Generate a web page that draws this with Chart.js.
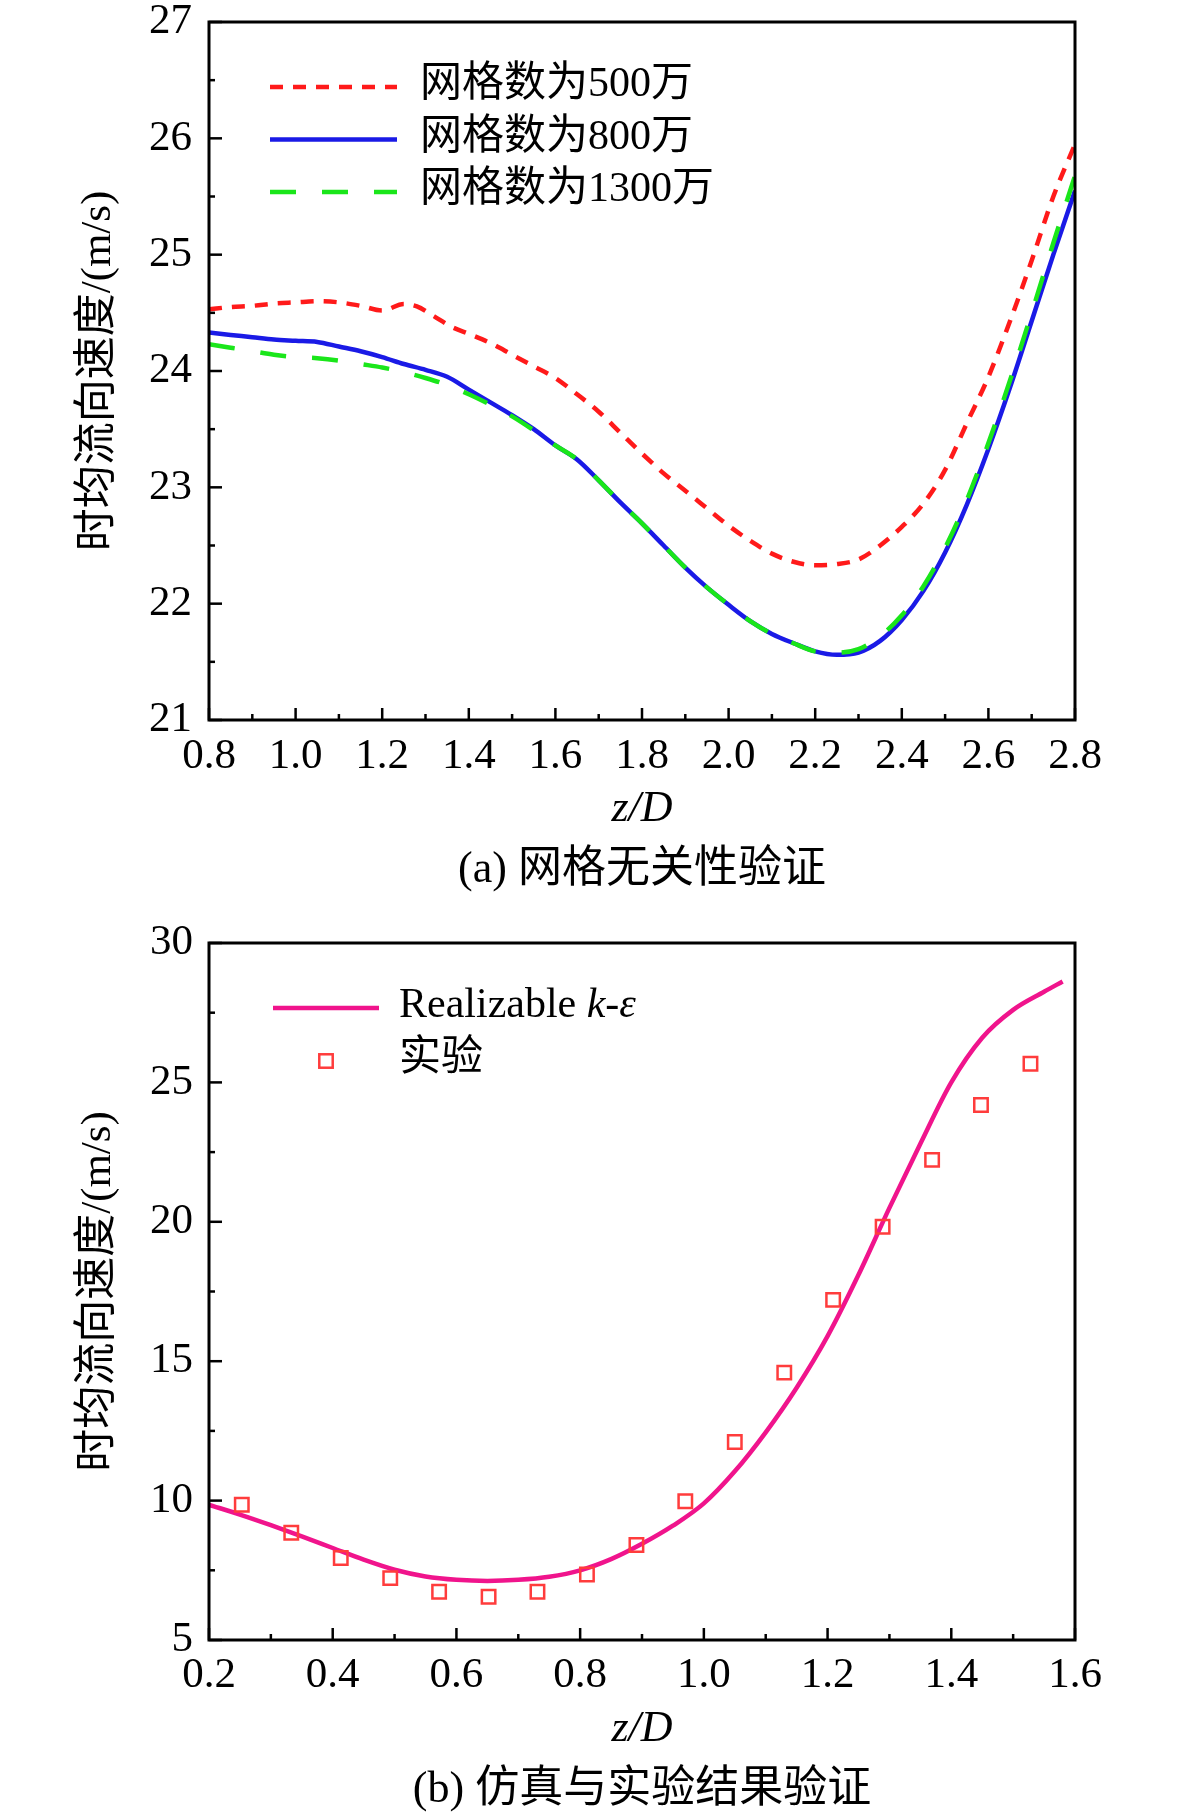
<!DOCTYPE html>
<html>
<head>
<meta charset="utf-8">
<script src="https://cdn.jsdelivr.net/npm/chart.js@4.4.0/dist/chart.umd.min.js"></script>
<style>
html,body{margin:0;padding:0;background:#fff;}
#c1{position:absolute;left:0;top:0;}
#c2{position:absolute;left:0;top:910px;}
</style>
</head>
<body>
<canvas id="c1" width="1182" height="910"></canvas>
<canvas id="c2" width="1182" height="908"></canvas>
<script>
// ---------- Chart (a) data ----------
const xTicksA = [0.8, 1.0, 1.2, 1.4, 1.6, 1.8, 2.0, 2.2, 2.4, 2.6, 2.8];
const yTicksA = [21, 22, 23, 24, 25, 26, 27];
const labelsA = ['网格数为500万', '网格数为800万', '网格数为1300万'];

const z500 = [0.80,0.85,0.90,0.95,1.00,1.05,1.10,1.15,1.20,1.25,1.28,1.32,1.36,1.40,1.45,1.50,1.55,1.60,1.65,1.70,1.75,1.80,1.85,1.90,1.95,2.00,2.05,2.10,2.15,2.20,2.25,2.30,2.35,2.40,2.45,2.50,2.55,2.60,2.65,2.70,2.75,2.80];
const v500 = [24.53,24.55,24.56,24.58,24.59,24.60,24.59,24.56,24.52,24.575,24.555,24.47,24.38,24.32,24.24,24.14,24.04,23.94,23.80,23.65,23.47,23.29,23.12,22.97,22.82,22.67,22.54,22.43,22.36,22.33,22.34,22.38,22.50,22.66,22.86,23.15,23.55,23.95,24.43,24.95,25.50,25.95];

const zGrid = [0.80,0.85,0.90,0.95,1.00,1.05,1.10,1.15,1.20,1.25,1.30,1.35,1.40,1.45,1.50,1.55,1.60,1.65,1.70,1.75,1.80,1.85,1.90,1.95,2.00,2.05,2.10,2.15,2.20,2.25,2.30,2.35,2.40,2.45,2.50,2.55,2.60,2.65,2.70,2.75,2.80];
const v800 = [24.33,24.31,24.29,24.27,24.26,24.25,24.21,24.17,24.12,24.06,24.01,23.95,23.84,23.73,23.62,23.50,23.36,23.24,23.06,22.87,22.69,22.50,22.31,22.14,21.99,21.85,21.74,21.66,21.59,21.56,21.58,21.68,21.86,22.11,22.44,22.85,23.33,23.86,24.43,25.00,25.55];
const v1300 = [24.23,24.20,24.17,24.14,24.12,24.11,24.09,24.06,24.03,23.99,23.94,23.88,23.80,23.71,23.61,23.49,23.36,23.24,23.06,22.87,22.69,22.50,22.31,22.14,21.99,21.85,21.74,21.66,21.59,21.58,21.61,21.72,21.90,22.15,22.48,22.89,23.38,23.92,24.50,25.10,25.68];

// ---------- Chart (b) data ----------
const xTicksB = [0.2, 0.4, 0.6, 0.8, 1.0, 1.2, 1.4, 1.6];
const yTicksB = [5, 10, 15, 20, 25, 30];
const zSim = [0.20,0.25,0.30,0.35,0.40,0.45,0.50,0.55,0.60,0.65,0.70,0.75,0.80,0.85,0.90,0.95,1.00,1.05,1.10,1.15,1.20,1.25,1.30,1.35,1.40,1.45,1.50,1.55,1.58];
const vSim = [9.85,9.50,9.12,8.72,8.30,7.88,7.52,7.28,7.16,7.12,7.16,7.27,7.50,7.90,8.45,9.10,9.90,11.05,12.45,14.05,15.90,18.10,20.50,22.80,25.00,26.60,27.60,28.25,28.62];
const zExp = [0.253,0.333,0.413,0.493,0.572,0.652,0.731,0.811,0.891,0.970,1.050,1.130,1.209,1.289,1.369,1.448,1.528];
const vExp = [9.85,8.85,7.94,7.22,6.73,6.55,6.73,7.35,8.41,9.98,12.10,14.59,17.20,19.82,22.22,24.19,25.67];

const serif = '"Liberation Serif", "Noto Sans CJK SC", serif';
const pts = (xs, ys) => xs.map((x, i) => ({x: x, y: ys[i]}));

// frame, inward ticks and legend
const frameAxes = {
  id: 'frameAxes',
  afterDraw(chart, args, o) {
    const {ctx, chartArea: a, scales: {x, y}} = chart;
    ctx.save();
    ctx.strokeStyle = '#000';
    ctx.lineCap = 'butt';
    ctx.setLineDash([]);
    ctx.lineWidth = 2.5;
    const xt = x.ticks.map(t => t.value), yt = y.ticks.map(t => t.value);
    const seg = (x1, y1, x2, y2) => { ctx.beginPath(); ctx.moveTo(x1, y1); ctx.lineTo(x2, y2); ctx.stroke(); };
    xt.forEach((v, i) => {
      const px = x.getPixelForValue(v);
      seg(px, a.bottom, px, a.bottom - 12);
      if (i < xt.length - 1) {
        const pm = x.getPixelForValue((v + xt[i + 1]) / 2);
        seg(pm, a.bottom, pm, a.bottom - 6);
      }
    });
    yt.forEach((v, i) => {
      const py = y.getPixelForValue(v);
      seg(a.left, py, a.left + 13, py);
      if (i < yt.length - 1) {
        const pm = y.getPixelForValue((v + yt[i + 1]) / 2);
        seg(a.left, pm, a.left + 6, pm);
      }
    });
    ctx.lineWidth = 3;
    ctx.strokeRect(a.left, a.top, a.right - a.left, a.bottom - a.top);

    // legend
    const L = o.legend;
    chart.data.datasets.forEach((ds, i) => {
      const yy = a.top + L.dy + i * L.rowH;
      const x0 = a.left + L.dx;
      ctx.save();
      if (ds.showLine === false) {
        const s = ds.pointRadius * Math.SQRT1_2;
        const cx = x0 + L.sampleW / 2;
        ctx.strokeStyle = ds.pointBorderColor;
        ctx.lineWidth = ds.pointBorderWidth;
        ctx.strokeRect(cx - s, yy - s, 2 * s, 2 * s);
      } else {
        ctx.strokeStyle = ds.borderColor;
        ctx.lineWidth = ds.borderWidth;
        ctx.setLineDash(ds.borderDash || []);
        seg(x0, yy, x0 + L.sampleW, yy);
      }
      ctx.restore();
      ctx.fillStyle = '#000';
      ctx.textBaseline = 'middle';
      ctx.textAlign = 'left';
      let tx = a.left + L.textDx;
      const parts = ds.legendParts || [[ds.label, false]];
      parts.forEach(p => {
        ctx.font = (p[1] ? 'italic ' : '') + '42px ' + serif;
        ctx.fillText(p[0], tx, yy - 2);
        tx += ctx.measureText(p[0]).width;
      });
    });
    ctx.restore();
  }
};

function axes(xmin, xmax, xt, ymin, ymax, yt, xPad, yPad) {
  return {
    x: {
      type: 'linear', min: xmin, max: xmax,
      afterBuildTicks: s => { s.ticks = xt.map(v => ({value: v})); },
      afterFit: s => { s.height = 120; s.paddingLeft = 0; s.paddingRight = 0; },
      grid: {display: false, drawTicks: false},
      border: {display: false},
      ticks: {font: {family: serif, size: 43, lineHeight: 1.2}, color: '#000', padding: xPad,
              maxRotation: 0, autoSkip: false, callback: v => Number(v).toFixed(1)},
      title: {display: true, text: 'z/D', color: '#000',
              font: {family: serif, size: 44, style: 'italic', lineHeight: 1.2},
              padding: {top: 0, bottom: 4}}
    },
    y: {
      type: 'linear', min: ymin, max: ymax,
      afterBuildTicks: s => { s.ticks = yt.map(v => ({value: v})); },
      afterFit: s => { s.width = 209; s.paddingTop = 0; s.paddingBottom = 0; },
      grid: {display: false, drawTicks: false},
      border: {display: false},
      ticks: {font: {family: serif, size: 43, lineHeight: 1}, color: '#000', padding: yPad,
              autoSkip: false, callback: v => String(v)},
      title: {display: true, text: '时均流向速度/(m/s)', color: '#000',
              font: {family: serif, size: 43, lineHeight: 1.2},
              padding: {top: 73, bottom: 0}}
    }
  };
}

new Chart(document.getElementById('c1'), {
  type: 'line',
  data: {
    datasets: [
      {label: labelsA[0], data: pts(z500, v500), borderColor: '#ff1a1a', borderWidth: 4.5,
       borderDash: [13, 10], pointRadius: 0, fill: false, order: 2, cubicInterpolationMode: 'monotone'},
      {label: labelsA[1], data: pts(zGrid, v800), borderColor: '#1a1ae6', borderWidth: 4.5,
       borderDash: [], pointRadius: 0, fill: false, order: 1, cubicInterpolationMode: 'monotone'},
      {label: labelsA[2], data: pts(zGrid, v1300), borderColor: '#1ae61a', borderWidth: 4.5,
       borderDash: [26, 26], pointRadius: 0, fill: false, order: 0, cubicInterpolationMode: 'monotone'}
    ]
  },
  options: {
    responsive: false, animation: false, devicePixelRatio: 1,
    layout: {padding: {left: 0, top: 22, right: 107, bottom: 13.6}},
    plugins: {
      legend: {display: false}, tooltip: {enabled: false},
      title: {display: true, position: 'bottom', fullSize: false, text: '(a) 网格无关性验证', color: '#000',
              font: {family: serif, size: 44, weight: 'normal', lineHeight: 1.2}, padding: {top: 3.6, bottom: 0}},
      frameAxes: {legend: {dx: 61, dy: 65, rowH: 52.5, sampleW: 127, textDx: 211}}
    },
    scales: axes(0.8, 2.8, xTicksA, 21, 27, yTicksA, 11, 17)
  },
  plugins: [frameAxes]
});

new Chart(document.getElementById('c2'), {
  type: 'line',
  data: {
    datasets: [
      {label: 'Realizable k-ε', legendParts: [['Realizable ', false], ['k', true], ['-', false], ['ε', true]],
       data: pts(zSim, vSim), borderColor: '#f0148c', borderWidth: 4.5, pointRadius: 0, fill: false,
       order: 1, cubicInterpolationMode: 'monotone'},
      {label: '实验', data: pts(zExp, vExp), showLine: false, pointStyle: 'rect', pointRadius: 9.5,
       pointBorderWidth: 2.5, pointBorderColor: '#ff3c3c', pointBackgroundColor: 'rgba(255,255,255,0)',
       borderColor: '#ff3c3c', order: 0}
    ]
  },
  options: {
    responsive: false, animation: false, devicePixelRatio: 1,
    layout: {padding: {left: 0, top: 33, right: 107, bottom: 1.6}},
    plugins: {
      legend: {display: false}, tooltip: {enabled: false},
      title: {display: true, position: 'bottom', fullSize: false, text: '(b) 仿真与实验结果验证', color: '#000',
              font: {family: serif, size: 44, weight: 'normal', lineHeight: 1.2}, padding: {top: 3.6, bottom: 0}},
      frameAxes: {legend: {dx: 64, dy: 65, rowH: 53, sampleW: 106, textDx: 190}}
    },
    scales: axes(0.2, 1.6, xTicksB, 5, 30, yTicksB, 10, 16)
  },
  plugins: [frameAxes]
});
</script>
</body>
</html>
